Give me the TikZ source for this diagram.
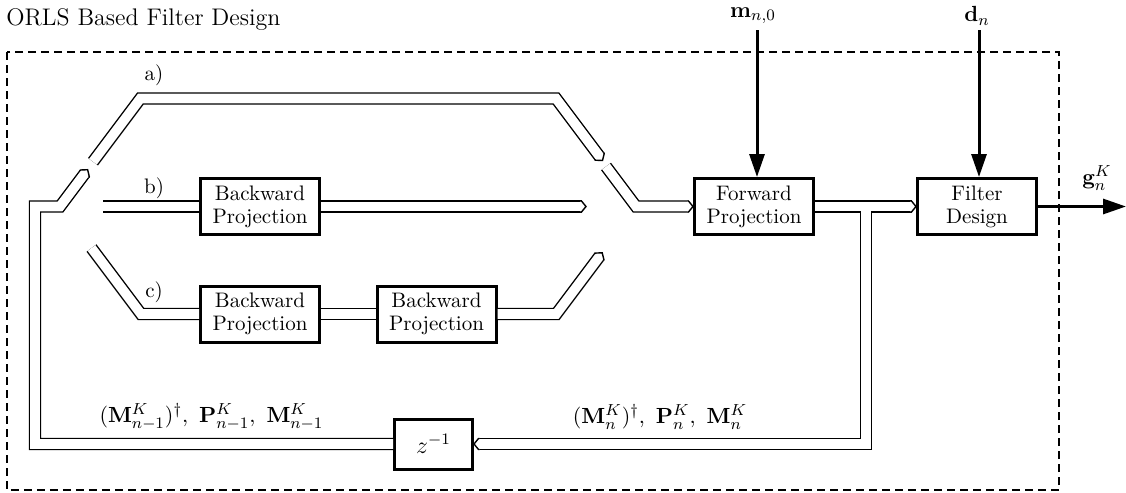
\documentclass[tikz,border=0pt]{standalone}
\usetikzlibrary{arrows.meta}
\newcommand\dtipat[2]{\filldraw[dtip, shift={#1}, rotate=#2] (-1,5.5) -- (0,5.5) -- (4.5,0) -- (0,-5.5) -- (-1,-5.5);}
\begin{document}
\begin{tikzpicture}[x=0.5pt,y=-0.5pt,
  blk/.style={draw, line width=1.5pt, minimum width=59.5pt, minimum height=28pt, inner sep=1pt, align=center, font=\fontsize{10.5}{11.5}\selectfont},
  dbl/.style={line width=0.7pt, double=white, double distance=4.8pt},
  dtip/.style={line width=0.7pt, fill=white},
  sig/.style={line width=1.5pt, -{Triangle[length=11.5pt,width=7.5pt]}},
  frame/.style={line width=0.65pt, dash pattern=on 4pt off 2.5pt},
  lbl/.style={font=\fontsize{10.5}{12}\selectfont, inner sep=0pt},
  mlbl/.style={font=\fontsize{11.3}{13}\selectfont, inner sep=0pt}
]
\useasboundingbox (0,0) rectangle (1126,493);
% title and frame
\node[lbl, anchor=base west, font=\fontsize{12}{14}\selectfont] (title) at (6,25) {ORLS Based Filter Design};
\draw[frame] (7,52) rectangle (1059,490);
% blocks
\node[blk] (bb)   at (260,206.5) {Backward\\Projection};
\node[blk] (bc1)  at (260,314) {Backward\\Projection};
\node[blk] (bc2)  at (436.5,314) {Backward\\Projection};
\node[blk] (fw)   at (754,206.5) {Forward\\Projection};
\node[blk] (filt) at (977,206.5) {Filter\\Design};
\node[blk, minimum width=39pt, minimum height=25pt, font=\fontsize{12}{14}\selectfont] (z) at (433.5,444) {$z^{-1}$};
% labels
\node[lbl] (la) at (154,75) {a)};
\node[lbl] (lb) at (154,188) {b)};
\node[lbl] (lc) at (154,292) {c)};
\node[mlbl] (m) at (753,16) {$\mathbf{m}_{n,0}$};
\node[mlbl] (d) at (977,16) {$\mathbf{d}_{n}$};
\node[mlbl] (g) at (1097,178) {$\mathbf{g}_{n}^{K}$};
\node[mlbl] (fbl) at (211.5,417) {$(\mathbf{M}_{n-1}^{K})^{\dagger},\ \mathbf{P}_{n-1}^{K},\ \mathbf{M}_{n-1}^{K}$};
\node[mlbl] (fbr) at (660,417) {$(\mathbf{M}_{n}^{K})^{\dagger},\ \mathbf{P}_{n}^{K},\ \mathbf{M}_{n}^{K}$};
% coordinates
\coordinate (b0) at (103,206.5);
\coordinate (eb) at (581.5,206.5);
\coordinate (c0) at (91.5,248);
\coordinate (cc) at (141,314);
\coordinate (cr) at (556.3,314);
\coordinate (ec) at (599.5,256.4);
\coordinate (a0) at (93,161.7);
\coordinate (a1) at (140.4,98.5);
\coordinate (a2) at (556,98.5);
\coordinate (ea) at (599.8,156.9);
\coordinate (f0) at (606,166.5);
\coordinate (f1) at (636,206.5);
\coordinate (ef) at ([xshift=-2.25pt]fw.west);
\coordinate (eg) at ([xshift=-2.25pt]filt.west);
\coordinate (j) at (866,206.5);
\coordinate (j2) at (866,444);
\coordinate (ez) at ([xshift=2.25pt]z.east);
\coordinate (l1) at (35,444);
\coordinate (l2) at (35,206.5);
\coordinate (l3) at (60,206.5);
\coordinate (e1) at (84.9,173.3);
\coordinate (mtop) at (757,30);
\coordinate (dtop) at (979,30);
\coordinate (gend) at (1126,206.5);
% path b
\draw[dbl] (b0) -- (bb.west);
\draw[dbl] (bb.east) -- (eb); \dtipat{(eb)}{0}
% path c
\draw[dbl] (c0) -- (cc) -- (bc1.west);
\draw[dbl] (bc1.east) -- (bc2.west);
\draw[dbl] (bc2.east) -- (cr) -- (ec); \dtipat{(ec)}{53.13}
% path a
\draw[dbl] (a0) -- (a1) -- (a2) -- (ea); \dtipat{(ea)}{-53.13}
% into forward projection
\draw[dbl] (f0) -- (f1) -- (ef); \dtipat{(ef)}{0}
% forward -> filter design, with feedback branch
\draw[dbl] (fw.east) -- (eg);
\draw[dbl] (j) -- (j2) -- (ez);
\draw[white, line width=4.8pt] (fw.east) -- (eg);
\dtipat{(eg)}{0}
\dtipat{(ez)}{180}
% feedback to the switch
\draw[dbl] (z.west) -- (l1) -- (l2) -- (l3) -- (e1); \dtipat{(e1)}{53.13}
% signal arrows
\draw[sig] (mtop) -- (fw.north -| mtop);
\draw[sig] (dtop) -- (filt.north -| dtop);
\draw[sig] (filt.east) -- (gend);
\end{tikzpicture}
\end{document}
